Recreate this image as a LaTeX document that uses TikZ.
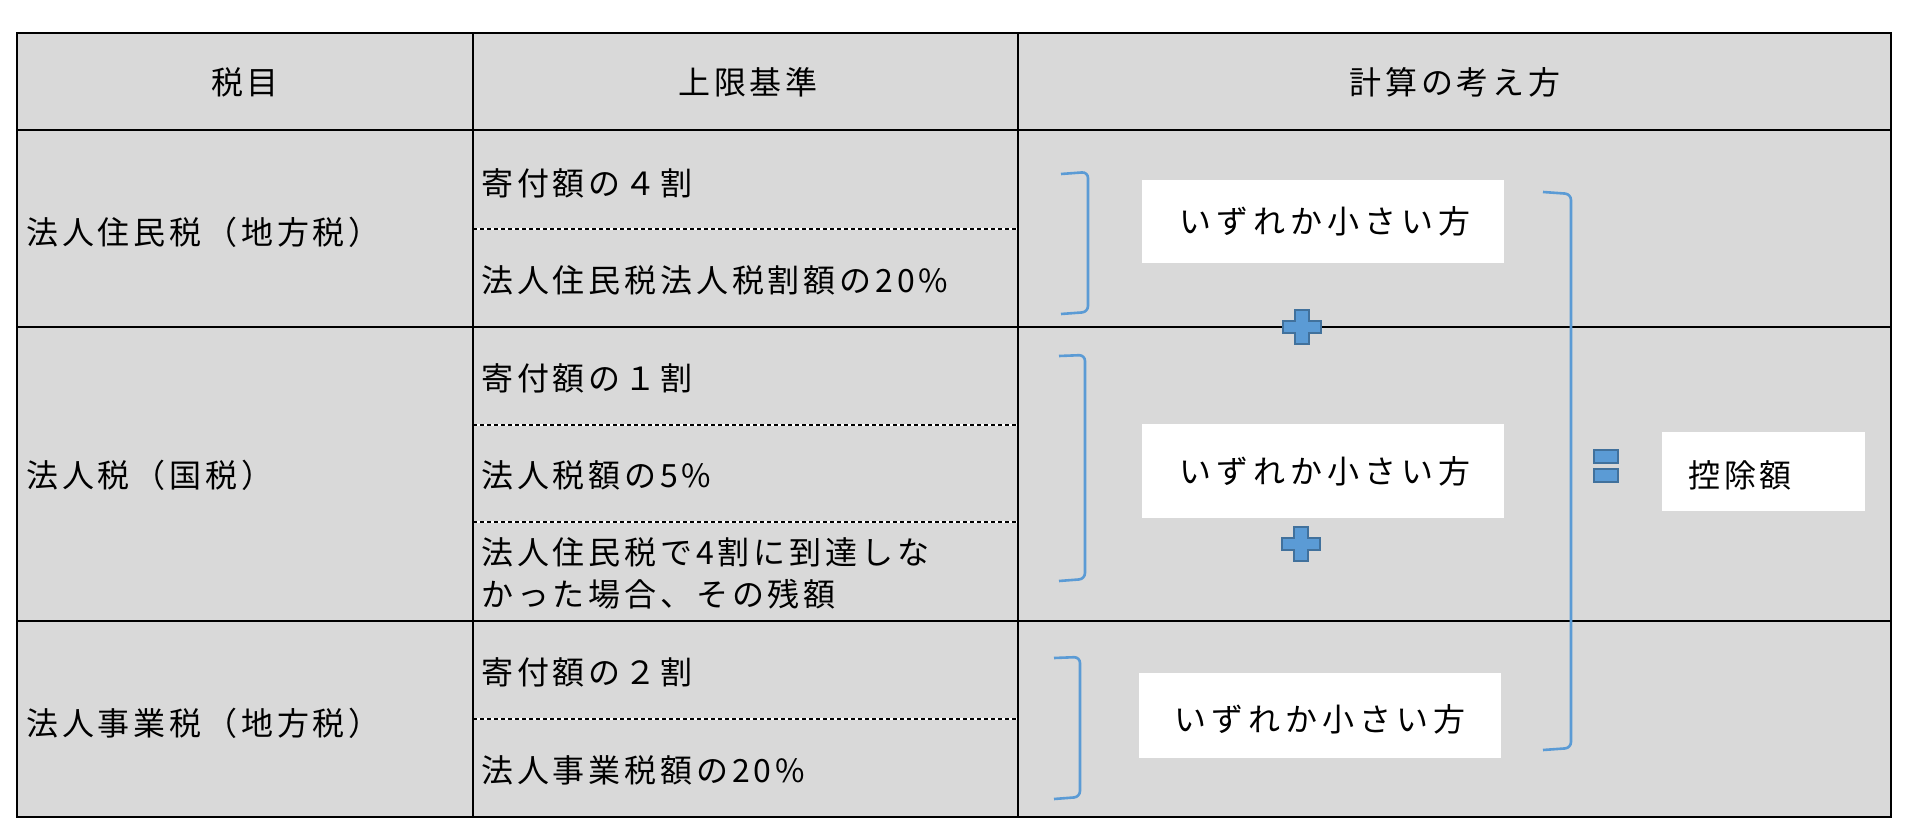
\documentclass[tikz,border=0pt]{standalone}
\usepackage{fontspec}
\setmainfont{Noto Sans CJK JP}
\newfontfamily\jpfont[LetterSpace=12]{Noto Sans CJK JP}
\newfontfamily\jpwide[LetterSpace=16]{Noto Sans CJK JP}
\newcommand\jptext{\fontsize{32pt}{38pt}\jpfont}
\newcommand\jpboxtext{\fontsize{32pt}{38pt}\jpwide}
\definecolor{tablegray}{HTML}{D9D9D9}
\definecolor{brblue}{HTML}{5B9BD5}
\definecolor{opfill}{HTML}{5B9BD5}
\definecolor{opedge}{HTML}{41719C}
\tikzset{
  tblline/.style={draw=black, line width=2.8pt},
  dashline/.style={draw=black, line width=2pt, dash pattern=on 4pt off 3pt},
  dashbg/.style={draw=white, line width=2pt},
  lefttext/.style={anchor=base west, inner sep=0pt, font=\jptext, text=black},
  headtext/.style={anchor=base, inner sep=0pt, font=\jptext, text=black},
  boxtext/.style={anchor=base, inner sep=0pt, font=\jpboxtext, text=black},
  whitebox/.style={fill=white, draw=none, inner sep=0pt},
  bracketline/.style={draw=brblue, line width=2.6pt, rounded corners=6pt},
  opshape/.style={fill=opfill, draw=opedge, line width=2pt}
}
\begin{document}
\begin{tikzpicture}[x=1pt,y=-1pt]
\useasboundingbox (0,0) rectangle (1920,834);
\fill[white] (0,0) rectangle (1920,834);
% table background
\fill[tablegray] (17,33) rectangle (1891,817);
% dashed separators in column 2
\foreach \yy in {229,425,522,719}{
  \draw[dashbg] (473,\yy) -- (1018,\yy);
  \draw[dashline] (473,\yy) -- (1018,\yy);
}
% grid
\draw[tblline] (17,33) rectangle (1891,817);
\draw[tblline] (17,130) -- (1891,130);
\draw[tblline] (17,327) -- (1891,327);
\draw[tblline] (17,621) -- (1891,621);
\draw[tblline] (473,33) -- (473,817);
\draw[tblline] (1018,33) -- (1018,817);

% headers
\node[headtext] (h1) at (245,95) {税目};
\node[headtext] (h2) at (748,95) {上限基準};
\node[headtext] (h3) at (1455,95) {計算の考え方};

% column 1
\node[lefttext] (r1) at (26,245) {法人住民税（地方税）};
\node[lefttext] (r2) at (26,487) {法人税（国税）};
\node[lefttext] (r3) at (26,735) {法人事業税（地方税）};

% column 2
\node[lefttext] (c1a) at (481,196) {寄付額の４割};
\node[lefttext] (c1b) at (481,293) {法人住民税法人税割額の20\%};
\node[lefttext] (c2a) at (481,390) {寄付額の１割};
\node[lefttext] (c2b) at (481,487) {法人税額の5\%};
\node[lefttext] (c2c) at (481,564) {法人住民税で4割に到達しな};
\node[lefttext] (c2d) at (481,606) {かった場合、その残額};
\node[lefttext] (c3a) at (481,684) {寄付額の２割};
\node[lefttext] (c3b) at (481,782) {法人事業税額の20\%};

% white boxes
\node[whitebox, minimum width=362pt, minimum height=83pt] (b1) at (1323,221.5) {};
\node[boxtext] (t1) at (1325,234) {いずれか小さい方};
\node[whitebox, minimum width=362pt, minimum height=94pt] (b2) at (1323,471) {};
\node[boxtext] (t2) at (1325,483) {いずれか小さい方};
\node[whitebox, minimum width=362pt, minimum height=85pt] (b3) at (1320,715.5) {};
\node[boxtext] (t3) at (1320,731) {いずれか小さい方};
\node[whitebox, minimum width=203pt, minimum height=79pt] (b4) at (1763.5,471.5) {};
\node[lefttext] (t4) at (1688,487) {控除額};

% brackets
\draw[bracketline] (1061,174) -- (1088,172) -- (1088,312) -- (1061,314);
\draw[bracketline] (1059,356) -- (1085,355) -- (1085,579) -- (1059,581);
\draw[bracketline] (1054,658) -- (1080,657) -- (1080,797) -- (1054,799);
\draw[bracketline] (1543,192) -- (1571,194) -- (1571,748) -- (1543,750);

% plus signs
\foreach \cx/\cy/\nm in {1302/327/p1, 1301/544/p2}{
  \coordinate (\nm) at (\cx,\cy);
  \draw[opshape] ([shift={(-7,-17)}]\nm) -- ([shift={(7,-17)}]\nm) -- ([shift={(7,-6)}]\nm)
    -- ([shift={(19,-6)}]\nm) -- ([shift={(19,6)}]\nm) -- ([shift={(7,6)}]\nm)
    -- ([shift={(7,17)}]\nm) -- ([shift={(-7,17)}]\nm) -- ([shift={(-7,6)}]\nm)
    -- ([shift={(-19,6)}]\nm) -- ([shift={(-19,-6)}]\nm) -- ([shift={(-7,-6)}]\nm) -- cycle;
}
% equals sign
\coordinate (eq) at (1606,466);
\draw[opshape] ([shift={(-12,-16)}]eq) rectangle ([shift={(12,-3)}]eq);
\draw[opshape] ([shift={(-12,3)}]eq) rectangle ([shift={(12,16)}]eq);
\end{tikzpicture}
\end{document}
